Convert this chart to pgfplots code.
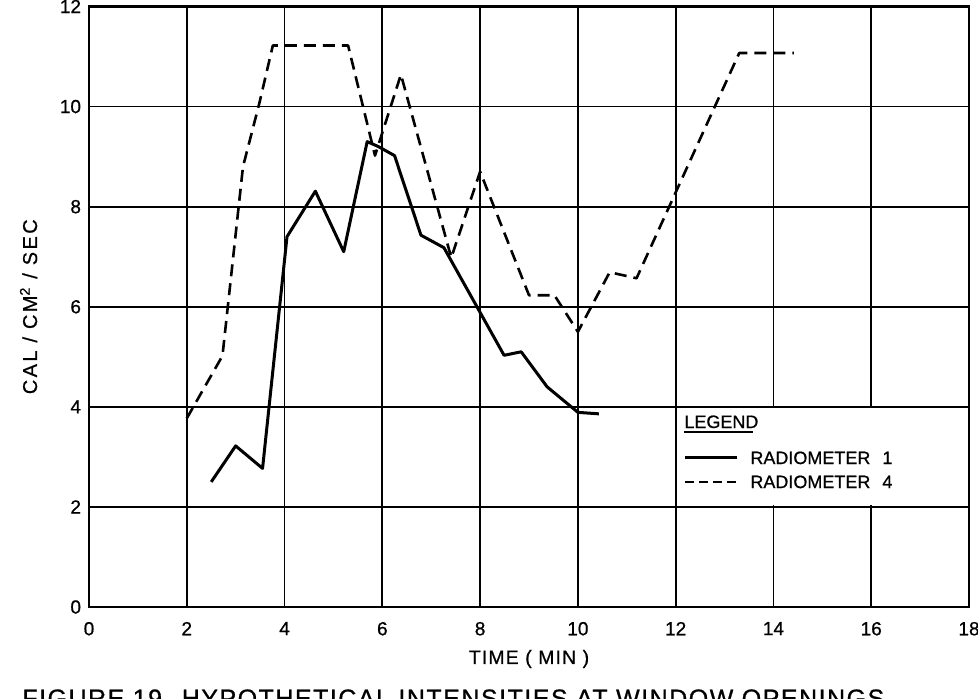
\documentclass[border=0pt]{standalone}
\usepackage{pgfplots}
\pgfplotsset{compat=1.18}
\usepackage{fontspec}
\setmainfont{Liberation Sans}[FakeBold=0.7]
\newfontfamily\lblfont{Liberation Sans}[LetterSpace=12,FakeBold=0.7]
\newfontfamily\xlblfont{Liberation Sans}[LetterSpace=6,FakeBold=0.7]
\newfontfamily\capfont{Liberation Sans}[LetterSpace=6,FakeBold=0.7]

\pgfplotstableread{
x y
2.50 2.50
3.00 3.22
3.55 2.77
4.05 7.40
4.63 8.31
5.21 7.10
5.69 9.30
5.92 9.20
6.25 9.02
6.79 7.43
7.26 7.18
8.49 5.03
8.84 5.10
9.37 4.40
10.00 3.89
10.43 3.86
}\radone

\pgfplotstableread{
x y
2.00 3.77
2.73 5.02
3.15 8.80
3.48 10.05
3.76 11.22
5.30 11.22
5.85 9.02
6.38 10.64
7.41 6.98
8.00 8.70
9.00 6.23
9.52 6.23
10.00 5.50
10.65 6.69
11.20 6.57
13.30 11.07
14.42 11.07
}\radfour

\begin{document}
\begin{tikzpicture}
\begin{axis}[
  at={(0,0)}, anchor=south west,
  scale only axis, width=440pt, height=300.25pt,
  xmin=0, xmax=18, ymin=0, ymax=12,
  xtick={0,2,...,18}, ytick={0,2,...,12},
  grid=major,
  major grid style={black, line width=0.85pt},
  axis line style={black, line width=1.1pt},
  major tick length=0pt,
  /pgf/number format/assume math mode=true,
  ticklabel style={font=\fontsize{9.5}{10}\selectfont},
  xticklabel style={anchor=north, inner sep=0pt, yshift=-7.3pt},
  yticklabel style={anchor=east, inner sep=0pt, xshift=-3.8pt},
  xlabel={TIME ( MIN )},
  xlabel style={at={(axis description cs:0.5,-0.0949)}, anchor=base, inner sep=0pt, font=\xlblfont\fontsize{9.7}{10}\selectfont},
  ylabel={CAL / CM\textsuperscript{2} / SEC},
  ylabel style={at={(axis description cs:-0.0591,0.5)}, anchor=base, inner sep=0pt, font=\lblfont\fontsize{10}{11}\selectfont},
]
\addplot[black, line width=1.5pt, line join=round] table[x=x,y=y] {\radone};
\addplot[black, line width=1.3pt, dash pattern=on 6pt off 3.5pt, line join=round] table[x=x,y=y] {\radfour};

\fill[white] (axis cs:12.03,2.03) rectangle (axis cs:17.97,3.97);
\node[anchor=base west, inner sep=0pt, font=\fontsize{9}{10}\selectfont] at (axis cs:12.17,3.577) {LEGEND};
\draw[line width=1pt] (axis cs:12.17,3.497) -- (axis cs:13.58,3.497);
\draw[line width=1.4pt] (axis cs:12.19,2.99) -- (axis cs:13.25,2.99);
\node[anchor=west, inner sep=0pt, font=\fontsize{9}{10}\selectfont] at (axis cs:13.52,2.98) {RADIOMETER\hspace{6pt}1};
\draw[line width=1.3pt, dash pattern=on 4.5pt off 2.5pt] (axis cs:12.19,2.50) -- (axis cs:13.25,2.50);
\node[anchor=west, inner sep=0pt, font=\fontsize{9}{10}\selectfont] at (axis cs:13.52,2.50) {RADIOMETER\hspace{6pt}4};
\end{axis}
\node[anchor=north west, inner sep=0pt, font=\capfont\fontsize{12.5}{14}\selectfont] at (-33.5pt,-41pt) {FIGURE 19. HYPOTHETICAL INTENSITIES AT WINDOW OPENINGS};
\pgfresetboundingbox
\path[use as bounding box] (-44.5pt,-45.5pt) rectangle (444.5pt,303.5pt);
\end{tikzpicture}
\end{document}
